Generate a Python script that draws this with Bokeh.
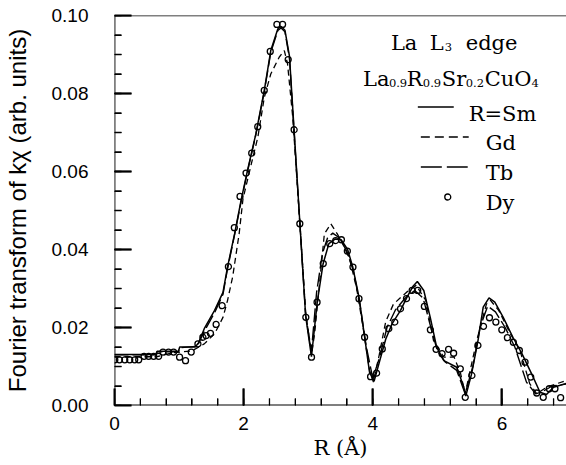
from bokeh.plotting import figure
from bokeh.models import Range1d, FixedTicker, Span, Label, PrintfTickFormatter
from bokeh.embed import file_html
from bokeh.resources import INLINE

# ---------------- data ----------------
sm_r = [0.00, 0.64, 0.66, 0.99, 1.01, 1.25, 1.30, 1.39, 1.55, 1.68, 1.75, 1.86, 1.96, 2.06, 2.19,
        2.32, 2.42, 2.53, 2.58, 2.64, 2.71, 2.78, 2.87, 2.96, 3.05, 3.14, 3.23, 3.32, 3.42, 3.51,
        3.61, 3.69, 3.79, 3.87, 3.95, 4.02, 4.10, 4.20, 4.30, 4.43, 4.53, 4.62, 4.69, 4.79, 4.89,
        4.99, 5.10, 5.30, 5.41, 5.44, 5.53, 5.63, 5.71, 5.80, 5.89, 6.02, 6.17, 6.31, 6.46, 6.59,
        6.69, 6.80, 7.00]
sm_ft = [0.0131, 0.0131, 0.0139, 0.0139, 0.0150, 0.0150, 0.0160, 0.0197, 0.0244, 0.0290, 0.0355,
         0.0440, 0.0526, 0.0603, 0.0697, 0.0808, 0.0910, 0.0966, 0.0972, 0.0962, 0.0895, 0.0710,
         0.0470, 0.0230, 0.0125, 0.0265, 0.0363, 0.0415, 0.0427, 0.0425, 0.0400, 0.0355, 0.0275,
         0.0180, 0.0085, 0.0062, 0.0110, 0.0170, 0.0210, 0.0244, 0.0278, 0.0305, 0.0318, 0.0295,
         0.0226, 0.0149, 0.0115, 0.0098, 0.0047, 0.0024, 0.0081, 0.0167, 0.0252, 0.0276, 0.0265,
         0.0226, 0.0175, 0.0133, 0.0081, 0.0034, 0.0028, 0.0047, 0.0057]

gd_r = [0.00, 0.65, 0.90, 1.20, 1.39, 1.55, 1.68, 1.75, 1.83, 1.93, 1.99, 2.12, 2.22, 2.32, 2.42,
        2.55, 2.63, 2.68, 2.76, 2.87, 2.96, 3.05, 3.10, 3.15, 3.20, 3.25, 3.35, 3.45, 3.55, 3.65,
        3.75, 3.85, 3.95, 4.01, 4.10, 4.20, 4.32, 4.52, 4.67, 4.82, 4.94, 5.10, 5.26, 5.36, 5.43,
        5.61, 5.76, 5.82, 5.95, 6.13, 6.28, 6.43, 6.54, 6.69, 6.85, 7.00]
gd_ft = [0.0125, 0.0125, 0.0135, 0.0140, 0.0158, 0.0184, 0.0226, 0.0269, 0.0330, 0.0440, 0.0530,
         0.0620, 0.0688, 0.0790, 0.0850, 0.0893, 0.0910, 0.0876, 0.0740, 0.0470, 0.0240, 0.0130,
         0.0185, 0.0270, 0.0355, 0.0440, 0.0466, 0.0440, 0.0410, 0.0370, 0.0300, 0.0200, 0.0090,
         0.0060, 0.0130, 0.0215, 0.0260, 0.0290, 0.0308, 0.0270, 0.0167, 0.0124, 0.0124, 0.0082,
         0.0030, 0.0167, 0.0260, 0.0270, 0.0244, 0.0184, 0.0141, 0.0056, 0.0030, 0.0047, 0.0056,
         0.0064]

tb_r = [0.00, 0.64, 0.66, 0.99, 1.01, 1.28, 1.39, 1.55, 1.68, 1.75, 1.86, 1.96, 2.06, 2.19, 2.32,
        2.42, 2.53, 2.58, 2.64, 2.71, 2.78, 2.87, 2.96, 3.05, 3.13, 3.22, 3.30, 3.38, 3.48, 3.60,
        3.70, 3.80, 3.90, 4.00, 4.10, 4.22, 4.35, 4.50, 4.65, 4.78, 4.90, 5.00, 5.12, 5.30, 5.43,
        5.55, 5.66, 5.78, 5.90, 6.05, 6.20, 6.38, 6.52, 6.62, 6.78, 7.00]
tb_ft = [0.0130, 0.0130, 0.0138, 0.0138, 0.0148, 0.0152, 0.0190, 0.0238, 0.0285, 0.0350, 0.0438,
         0.0522, 0.0600, 0.0695, 0.0805, 0.0905, 0.0962, 0.0968, 0.0958, 0.0890, 0.0705, 0.0468,
         0.0232, 0.0140, 0.0290, 0.0390, 0.0430, 0.0442, 0.0430, 0.0395, 0.0345, 0.0260, 0.0150,
         0.0070, 0.0120, 0.0200, 0.0245, 0.0275, 0.0295, 0.0275, 0.0200, 0.0140, 0.0112, 0.0090,
         0.0030, 0.0100, 0.0200, 0.0255, 0.0240, 0.0200, 0.0150, 0.0060, 0.0030, 0.0035, 0.0050,
         0.0055]

dy_r = [0.005, 0.077, 0.159, 0.236, 0.313, 0.375, 0.458, 0.529, 0.606, 0.684, 0.751, 0.838, 0.915,
        1.008, 1.100, 1.188, 1.292, 1.369, 1.420, 1.486, 1.574, 1.667, 1.764, 1.856, 1.944, 2.037,
        2.125, 2.218, 2.319, 2.412, 2.515, 2.603, 2.690, 2.782, 2.870, 2.963, 3.051, 3.137, 3.233,
        3.333, 3.426, 3.514, 3.606, 3.693, 3.786, 3.873, 3.966, 4.059, 4.147, 4.248, 4.341, 4.429,
        4.522, 4.610, 4.696, 4.799, 4.892, 4.980, 5.073, 5.174, 5.252, 5.355, 5.432, 5.535, 5.628,
        5.715, 5.807, 5.906, 5.998, 6.085, 6.177, 6.270, 6.358, 6.446, 6.539, 6.640, 6.733, 6.821,
        6.909]
dy_ft = [0.0117, 0.0117, 0.0117, 0.0117, 0.0117, 0.0117, 0.0126, 0.0126, 0.0126, 0.0126, 0.0137,
         0.0137, 0.0137, 0.0124, 0.0115, 0.0137, 0.0158, 0.0175, 0.0179, 0.0185, 0.0208, 0.0256,
         0.0356, 0.0456, 0.0536, 0.0596, 0.0647, 0.0715, 0.0808, 0.0908, 0.0977, 0.0977, 0.0887,
         0.0707, 0.0466, 0.0226, 0.0124, 0.0265, 0.0364, 0.0415, 0.0423, 0.0425, 0.0396, 0.0355,
         0.0274, 0.0175, 0.0074, 0.0083, 0.0145, 0.0197, 0.0214, 0.0248, 0.0274, 0.0295, 0.0295,
         0.0254, 0.0194, 0.0144, 0.0133, 0.0144, 0.0134, 0.0094, 0.0021, 0.0077, 0.0154, 0.0203,
         0.0225, 0.0214, 0.0194, 0.0174, 0.0162, 0.0141, 0.0111, 0.0073, 0.0032, 0.0021, 0.0043,
         0.0043, 0.0020]

x_major = [0, 2, 4, 6]
x_minor = [0.4 * i for i in range(18)]
y_major = [0.00, 0.02, 0.04, 0.06, 0.08, 0.10]
y_minor = [0.005 * i for i in range(21)]

# ---------------- figure ----------------
W, H = 566, 465
LEFT, TOP, BOTTOM = 113, 15, 60
X0, X1, Y0, Y1 = 0.0, 7.0, 0.0, 0.10

p = figure(width=W, height=H, x_range=Range1d(X0, X1), y_range=Range1d(Y0, Y1),
           output_backend="svg", toolbar_location=None,
           min_border_left=LEFT, min_border_right=0, min_border_top=TOP, min_border_bottom=BOTTOM)
p.outline_line_color = None
p.grid.grid_line_color = None

fw = W - LEFT
fh = H - TOP - BOTTOM


def px_x(px):
    return X0 + (px - LEFT) / fw * (X1 - X0)


def px_y(py):
    return Y0 + (TOP + fh - py) / fh * (Y1 - Y0)


def dx_px(n):
    return n / fw * (X1 - X0)


def dy_px(n):
    return n / fh * (Y1 - Y0)


p.xaxis.ticker = FixedTicker(ticks=x_major, minor_ticks=x_minor)
p.yaxis.ticker = FixedTicker(ticks=y_major, minor_ticks=y_minor)
p.yaxis.formatter = PrintfTickFormatter(format="%.2f")

for ax in (p.xaxis, p.yaxis):
    ax.axis_line_color = None
    ax.major_tick_in = 17
    ax.major_tick_out = 0
    ax.minor_tick_in = 7
    ax.minor_tick_out = 0
    ax.major_tick_line_color = "black"
    ax.minor_tick_line_color = "black"
    ax.major_tick_line_width = 2
    ax.minor_tick_line_width = 1
    ax.major_label_text_font = "Liberation Sans"
    ax.major_label_text_font_size = "19px"
    ax.major_label_text_color = "black"

p.xaxis.major_label_standoff = 11
p.yaxis.major_label_standoff = 26

SERIF = "'DejaVu Serif', serif"

p.xaxis.axis_label = "R (Å)"
p.xaxis.axis_label_text_font = SERIF
p.xaxis.axis_label_text_font_size = "21px"
p.xaxis.axis_label_text_font_style = "normal"
p.xaxis.axis_label_text_color = "black"
p.xaxis.axis_label_standoff = 3

p.yaxis.axis_label = "Fourier transform of kχ (arb. units)"
p.yaxis.axis_label_text_font = "Liberation Sans"
p.yaxis.axis_label_text_font_size = "24px"
p.yaxis.axis_label_text_font_style = "normal"
p.yaxis.axis_label_text_color = "black"
p.yaxis.axis_label_standoff = 18

# curves
p.line(sm_r, sm_ft, line_color="black", line_width=1.5)
p.line(gd_r, gd_ft, line_color="black", line_width=1.3, line_dash="6 4")
p.line(tb_r, tb_ft, line_color="black", line_width=1.4, line_dash="14 4")
p.scatter(dy_r, dy_ft, marker="circle", size=6, fill_color=None, line_color="black", line_width=1.3)

# inward tick marks at the tick positions (drawn on top as well)
p.segment(x0=x_minor, y0=[Y0] * len(x_minor), x1=x_minor, y1=[Y0 + dy_px(7)] * len(x_minor),
          line_color="black", line_width=1.3)
p.segment(x0=x_major, y0=[Y0] * len(x_major), x1=x_major, y1=[Y0 + dy_px(17)] * len(x_major),
          line_color="black", line_width=1.6)
p.segment(x0=[X0] * len(y_minor), y0=y_minor, x1=[X0 + dx_px(7)] * len(y_minor), y1=y_minor,
          line_color="black", line_width=1.3)
p.segment(x0=[X0] * len(y_major), y0=y_major, x1=[X0 + dx_px(17)] * len(y_major), y1=y_major,
          line_color="black", line_width=1.6)

# frame lines: left, bottom, top
p.add_layout(Span(location=X0, dimension="height", line_color="black", line_width=1.8))
p.add_layout(Span(location=Y0, dimension="width", line_color="black", line_width=1.8))
p.add_layout(Span(location=Y1, dimension="width", line_color="black", line_width=1.6))

# ---------------- legend / annotation ----------------
MAIN, SUB = "21px", "11.5px"


def txt(s, px, py, size=MAIN):
    p.add_layout(Label(x=px_x(px), y=px_y(py), text=s, text_font=SERIF, text_font_size=size,
                       text_color="black", text_baseline="alphabetic", text_align="left"))


# "La L3 edge"
txt("La", 390, 42)
txt("L", 429, 42)
txt("3", 444, 46, SUB)
txt("edge", 465, 42)

# "La0.9R0.9Sr0.2CuO4"
txt("La", 362, 78)
txt("0.9", 388, 82, SUB)
txt("R", 406, 78)
txt("0.9", 422, 82, SUB)
txt("Sr", 441, 78)
txt("0.2", 465, 82, SUB)
txt("CuO", 484, 78)
txt("4", 531, 82, SUB)

# entries
txt("R=Sm", 468, 113)
txt("Gd", 485, 142)
txt("Tb", 485, 172)
txt("Dy", 485, 202)

p.line([px_x(417), px_x(453)], [px_y(106.5), px_y(106.5)], line_color="black", line_width=1.5)
p.line([px_x(420), px_x(468)], [px_y(136.5), px_y(136.5)], line_color="black", line_width=1.3,
       line_dash="9 5")
p.line([px_x(420), px_x(467)], [px_y(166.5), px_y(166.5)], line_color="black", line_width=1.4,
       line_dash="21 5")
p.scatter([px_x(447)], [px_y(196.5)], marker="circle", size=6, fill_color=None,
          line_color="black", line_width=1.3)

open("out.html", "w").write(file_html(p, INLINE))
